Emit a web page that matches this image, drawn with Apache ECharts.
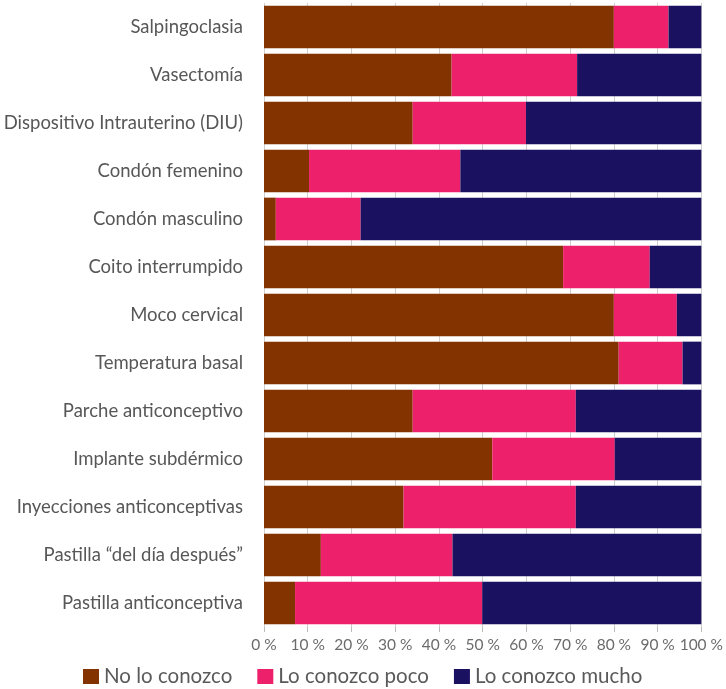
<!DOCTYPE html>
<html>
<head>
<meta charset="utf-8">
<script src="https://cdn.jsdelivr.net/npm/echarts@6/dist/echarts.min.js"></script>
<style>
  html, body { margin: 0; padding: 0; background: #fff; }
  #chart { width: 726px; height: 689px; }
</style>
</head>
<body>
<div id="chart"></div>
<script>
// Métodos anticonceptivos, de arriba hacia abajo
const categories = [
  'Salpingoclasia',
  'Vasectomía',
  'Dispositivo Intrauterino (DIU)',
  'Condón femenino',
  'Condón masculino',
  'Coito interrumpido',
  'Moco cervical',
  'Temperatura basal',
  'Parche anticonceptivo',
  'Implante subdérmico',
  'Inyecciones anticonceptivas',
  'Pastilla “del día después”',
  'Pastilla anticonceptiva'
];

const seriesNames = ['No lo conozco', 'Lo conozco poco', 'Lo conozco mucho'];

// Porcentajes por método
const noLoConozco     = [80.0, 42.9, 34.0, 10.3,  2.7, 68.4, 80.0, 81.1, 34.0, 52.2, 31.9, 13.0,  7.1];
const loConozcoPoco   = [12.5, 28.7, 25.9, 34.6, 19.4, 19.8, 14.4, 14.6, 37.3, 28.0, 39.4, 30.1, 42.8];
const loConozcoMucho  = [ 7.5, 28.4, 40.1, 55.1, 77.9, 11.8,  5.6,  4.3, 28.7, 19.8, 28.7, 56.9, 50.1];

const colors = ['#823300', '#ED206C', '#1A1160'];
const textFont = 'Lato, "Open Sans", sans-serif';

const chart = echarts.init(document.getElementById('chart'));

const values = [noLoConozco, loConozcoPoco, loConozcoMucho];

chart.setOption({
  animation: false,
  color: colors,
  grid: { left: 264, right: 23, top: 3, bottom: 62, containLabel: false },
  legend: {
    data: seriesNames,
    left: 78,
    top: 661,
    itemWidth: 16,
    itemHeight: 15,
    itemGap: 25,
    icon: 'rect',
    textStyle: { fontFamily: textFont, fontSize: 20.5, color: '#5a5a5a', padding: [0, 0, 0, 0] }
  },
  xAxis: {
    type: 'value',
    min: 0,
    max: 100,
    interval: 10,
    axisLine: { show: false },
    axisTick: { show: true, length: 5, lineStyle: { color: '#bbb' } },
    splitLine: { show: true, lineStyle: { color: '#d0d0d0', width: 1 } },
    axisLabel: {
      formatter: '{value} %',
      fontFamily: textFont,
      fontSize: 15.5,
      color: '#6b6b6b',
      margin: 10
    }
  },
  yAxis: {
    type: 'category',
    inverse: true,
    data: categories,
    axisLine: { show: false },
    axisTick: { show: false },
    axisLabel: {
      fontFamily: textFont,
      fontSize: 18.5,
      color: '#575757',
      margin: 21
    }
  },
  series: seriesNames.map((name, i) => ({
    name,
    type: 'bar',
    stack: 'total',
    data: values[i],
    barCategoryGap: '11%',
    itemStyle: { color: colors[i] }
  }))
});
</script>
</body>
</html>
